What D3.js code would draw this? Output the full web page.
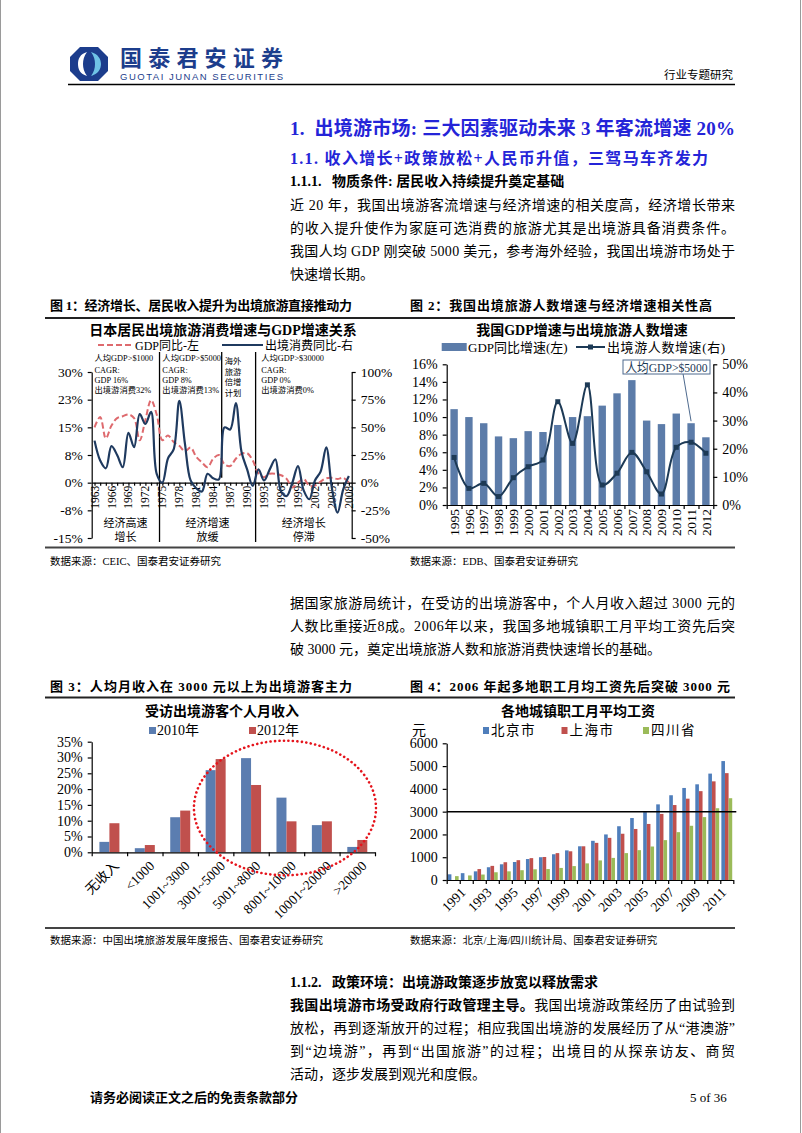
<!DOCTYPE html>
<html><head><meta charset="utf-8">
<script src="https://cdn.jsdelivr.net/npm/d3@7"></script>
<style>
body{margin:0;background:#fff}
svg{display:block}
text{white-space:pre}
</style>
</head><body>
<script>
// ---------------- DATA ----------------
// Chart 1: Japan
const jpYears = [1963,1964,1965,1966,1967,1968,1969,1970,1971,1972,1973,1974,1975,1976,1977,1978,1979,1980,1981,1982,1983,1984,1985,1986,1987,1988,1989,1990,1991,1992,1993,1994,1995,1996,1997,1998,1999,2000,2001,2002,2003,2004,2005,2006,2007,2008];
const jpGdp = [15,17.8,12,15.5,17.5,18,18.5,17.5,11.5,17,22.4,18.5,11.5,12.8,11,10,8.5,9.5,7,5.5,4.2,6.5,7.5,5,4.5,6.5,7.8,8,6,2.5,1.5,2.4,2.4,2,1,-1.3,0,1,-0.8,-0.8,0.3,1.2,1.3,1,1.3,0];
const jpSpend = [38,20,13,33,25,14,45,32,62,53,64,8,0,22,30,74,35,2,-5,-8,8,4,3,50,48,72,28,12,-3,12,2,12,21,-8,-12,0,15,-7,-15,2,10,32,-5,-27,-6,6];
const c1LeftTicks = [-15,-7.5,0,7.5,15,22.5,30];
const c1LeftLabels = ['-15%','-8%','0%','8%','15%','23%','30%'];
const c1RightTicks = [-50,-25,0,25,50,75,100];
const c1XLabels = [1963,1966,1969,1972,1975,1978,1981,1984,1987,1990,1993,1996,1999,2002,2005,2008];
const c1Dividers = [1974.5,1985.5,1991.5];
const c1Notes = [
  ['人均GDP>$1000','CAGR:','GDP 16%','出境游消费32%'],
  ['人均GDP>$5000','CAGR:','GDP 8%','出境游消费13%'],
  ['海外','旅游','倍增','计划'],
  ['人均GDP>$30000','CAGR:','GDP 0%','出境游消费0%']
];
const c1Periods = [['经济高速','增长'],['经济增速','放缓'],['经济增长','停滞']];

// Chart 2: China
const cnYears = ['1995','1996','1997','1998','1999','2000','2001','2002','2003','2004','2005','2006','2007','2008','2009','2010','2011','2012'];
const cnGdp = [10.9,10.0,9.3,7.8,7.6,8.4,8.3,9.1,10.0,10.1,11.3,12.7,14.2,9.6,9.2,10.4,9.3,7.7];
const cnTravel = [16.9,5.9,7.7,3.0,9.7,13.6,16.0,36.7,21.9,42.7,7.1,11.3,18.7,11.8,3.9,20.5,22.3,18.4];
const c2LeftTicks = [0,2,4,6,8,10,12,14,16];
const c2RightTicks = [0,10,20,30,40,50];

// Chart 3: income
const incomeCats = ['无收入','<1000','1001~3000','3001~5000','5001~8000','8001~10000','10001~20000','>20000'];
const income2010 = [3.3,1.3,11.1,26.0,29.8,17.3,8.6,1.7];
const income2012 = [9.2,2.3,13.2,29.5,21.3,9.8,9.8,3.9];
const c3Ticks = [0,5,10,15,20,25,30,35];

// Chart 4: wages
const wageYears = ['1991','1992','1993','1994','1995','1996','1997','1998','1999','2000','2001','2002','2003','2004','2005','2006','2007','2008','2009','2010','2011','2012'];
const wageBeijing = [250,300,380,560,690,790,920,1000,1130,1300,1480,1720,2000,2360,2720,2980,3320,3720,4040,4200,4670,5220];
const wageShanghai = [null,null,480,620,780,870,960,1010,1180,1260,1480,1630,1850,2030,2240,2460,2900,3290,3570,3900,4330,4690];
const wageSichuan = [170,200,240,340,380,430,470,480,530,610,730,860,970,1180,1310,1470,1750,2100,2380,2760,3150,3590];
const c4Ticks = [0,1000,2000,3000,4000,5000,6000];
const c4XLabels = ['1991','1993','1995','1997','1999','2001','2003','2005','2007','2009','2011'];
const c4RefLine = [3000];

// ---------------- SETUP ----------------
const W = 802, H = 1133;
const FONT = '"Liberation Serif","Noto Sans CJK SC",serif';
const BLUE_H = '#2424D8';
const svg = d3.select('body').append('svg').attr('width', W).attr('height', H)
  .style('font-family', FONT);

function T(x, y, s, o = {}) {
  const t = svg.append('text').attr('x', x).attr('y', y)
    .attr('font-size', o.size || 14)
    .attr('font-weight', o.weight || 'normal')
    .attr('fill', o.fill || '#000')
    .attr('text-anchor', o.anchor || 'start')
    .text(s);
  if (o.width) t.attr('textLength', o.width).attr('lengthAdjust', 'spacing');
  if (o.ls) t.attr('letter-spacing', o.ls);
  return t;
}
function L(x1, y1, x2, y2, o = {}) {
  return svg.append('line').attr('x1', x1).attr('y1', y1).attr('x2', x2).attr('y2', y2)
    .attr('stroke', o.stroke || '#000').attr('stroke-width', o.w || 1)
    .attr('stroke-dasharray', o.dash || null);
}

// page border
L(0.5, 0, 0.5, H, {stroke: '#9a9a9a'});
L(800.5, 0, 800.5, H, {stroke: '#9a9a9a'});

// ---------------- HEADER ----------------
const logo = svg.append('g').attr('transform', 'translate(70,47)');
logo.append('path').attr('d', 'M10,0 L28,0 L38,10 L38,24 L28,34 L10,34 L0,24 L0,10 Z').attr('fill', '#1C3D8C');
logo.append('path').attr('d', 'M17,5 C10,7 8,12 8,17 C8,22 10,27 17,29 C14,25 13,21 13,17 C13,13 14,9 17,5 Z').attr('fill', '#fff');
logo.append('path').attr('d', 'M21,5 C28,7 31,12 31,17 C31,22 28,27 21,29 C24,25 25,21 25,17 C25,13 24,9 21,5 Z').attr('fill', '#6FC3E6');
T(120, 66, '国泰君安证券', {size: 22, weight: 'bold', fill: '#1C3D8C', width: 163}).style('font-family', '"Noto Sans CJK SC",sans-serif');
T(120, 80, 'GUOTAI JUNAN SECURITIES', {size: 9.5, fill: '#1C3D8C', width: 163}).style('font-family', '"Liberation Sans",sans-serif');
T(733, 79, '行业专题研究', {size: 11.5, anchor: 'end'});
L(68, 84.5, 735, 84.5, {w: 1.3});

// ---------------- HEADINGS / TEXT ----------------
T(290, 135, '1.  出境游市场: 三大因素驱动未来 3 年客流增速 20%', {size: 19, weight: 'bold', fill: BLUE_H, width: 445});
T(290, 164, '1.1. 收入增长+政策放松+人民币升值，三驾马车齐发力', {size: 16, weight: 'bold', fill: BLUE_H, width: 418});
T(290, 186, '1.1.1.   物质条件: 居民收入持续提升奠定基础', {size: 14, weight: 'bold'});
const p1 = ['近 20 年，我国出境游客流增速与经济增速的相关度高，经济增长带来',
            '的收入提升使作为家庭可选消费的旅游尤其是出境游具备消费条件。',
            '我国人均 GDP 刚突破 5000 美元，参考海外经验，我国出境游市场处于',
            '快速增长期。'];
p1.forEach((s, i) => T(290, 210 + i * 23, s, {size: 14, width: i < 3 ? 445 : null}));

T(50, 310, '图 1：经济增长、居民收入提升为出境旅游直接推动力', {size: 13, weight: 'bold', width: 302});
T(410, 310, '图 2：我国出境旅游人数增速与经济增速相关性高', {size: 13, weight: 'bold', width: 302});
L(45, 318, 735, 318, {w: 1.8, stroke: '#222'});
L(45, 547.5, 735, 547.5, {w: 1.8, stroke: '#444'});
T(50, 565, '数据来源：CEIC、国泰君安证券研究', {size: 10.5});
T(410, 565, '数据来源：EDB、国泰君安证券研究', {size: 10.5});

const p2 = ['据国家旅游局统计，在受访的出境游客中，个人月收入超过 3000 元的',
            '人数比重接近8成。2006年以来，我国多地城镇职工月平均工资先后突',
            '破 3000 元，奠定出境旅游人数和旅游消费快速增长的基础。'];
p2.forEach((s, i) => T(290, 608 + i * 23, s, {size: 14, width: i < 2 ? 445 : null}));

T(50, 691, '图 3：人均月收入在 3000 元以上为出境游客主力', {size: 13, weight: 'bold', width: 302});
T(410, 691, '图 4：2006 年起多地职工月均工资先后突破 3000 元', {size: 13, weight: 'bold', width: 320});
L(45, 697.5, 735, 697.5, {w: 1.8, stroke: '#222'});
L(45, 928, 735, 928, {w: 1.8, stroke: '#444'});
T(50, 944, '数据来源：中国出境旅游发展年度报告、国泰君安证券研究', {size: 10.5});
T(410, 944, '数据来源：北京/上海/四川统计局、国泰君安证券研究', {size: 10.5});

T(290, 987, '1.1.2.   政策环境：出境游政策逐步放宽以释放需求', {size: 14, weight: 'bold'});
const p3first = svg.append('text').attr('x', 290).attr('y', 1010).attr('font-size', 14)
  .attr('textLength', 445).attr('lengthAdjust', 'spacing');
p3first.append('tspan').attr('font-weight', 'bold').text('我国出境游市场受政府行政管理主导。');
p3first.append('tspan').text('我国出境游政策经历了由试验到');
const p3 = ['放松，再到逐渐放开的过程；相应我国出境游的发展经历了从“港澳游”',
            '到“边境游”，再到“出国旅游”的过程；出境目的从探亲访友、商贸',
            '活动，逐步发展到观光和度假。'];
p3.forEach((s, i) => T(290, 1033 + i * 23, s, {size: 14, width: i < 2 ? 445 : null}));

T(90, 1102, '请务必阅读正文之后的免责条款部分', {size: 13, weight: 'bold'});
T(690, 1102, '5 of 36', {size: 13});

function styleAxis(g, size) {
  g.attr('font-family', FONT).attr('font-size', size);
  g.selectAll('path,line').attr('stroke', '#000').attr('stroke-width', 1.2);
  g.selectAll('text').attr('fill', '#000');
}

// ---------------- CHART 1 ----------------
{
  const x = d3.scaleLinear().domain([jpYears[0] - 0.5, jpYears[jpYears.length - 1] + 0.5]).range([91.7, 351.7]);
  const yL = d3.scaleLinear().domain([-15, 30]).range([538, 372]);
  const yR = d3.scaleLinear().domain([-50, 100]).range([538, 372]);
  const g = svg.append('g');
  g.append('text').attr('x', 223).attr('y', 335).attr('text-anchor', 'middle')
    .attr('font-size', 14).attr('font-weight', 'bold').text('日本居民出境旅游消费增速与GDP增速关系');
  // legend
  g.append('line').attr('x1', 98).attr('x2', 132).attr('y1', 345).attr('y2', 345)
    .attr('stroke', '#DE6A6E').attr('stroke-width', 2).attr('stroke-dasharray', '6,3');
  g.append('text').attr('x', 135).attr('y', 349.5).attr('font-size', 12).text('GDP同比-左');
  g.append('line').attr('x1', 222).attr('x2', 263).attr('y1', 345).attr('y2', 345)
    .attr('stroke', '#1F3A5F').attr('stroke-width', 2.2);
  g.append('text').attr('x', 265).attr('y', 349.5).attr('font-size', 12).text('出境消费同比-右');

  const aL = g.append('g').attr('transform', 'translate(91.7,0)')
    .call(d3.axisLeft(yL).tickValues(c1LeftTicks).tickFormat((d, i) => c1LeftLabels[i]).tickSize(4).tickSizeOuter(0).tickPadding(5));
  styleAxis(aL, 13.5);
  const aR = g.append('g').attr('transform', 'translate(351.7,0)')
    .call(d3.axisRight(yR).tickValues(c1RightTicks).tickFormat(d => d + '%').tickSize(4).tickSizeOuter(0).tickPadding(5));
  styleAxis(aR, 13.5);
  const aX = g.append('g').attr('transform', `translate(0,${yL(0)})`)
    .call(d3.axisBottom(x).tickValues(jpYears).tickFormat('').tickSize(3).tickSizeOuter(0));
  styleAxis(aX, 11);
  g.selectAll('.xl').data(c1XLabels).join('text')
    .attr('transform', d => `translate(${x(d)},${yL(0) + 3}) rotate(-90)`)
    .attr('text-anchor', 'end').attr('dy', '0.35em').attr('font-size', 11.5).text(d => d);

  // dividers
  c1Dividers.forEach((yr, i) => {
    g.append('line').attr('x1', x(yr)).attr('x2', x(yr))
      .attr('y1', yL(30) - 20).attr('y2', i === 1 ? yL(0) - 5 : yL(-15) + 4)
      .attr('stroke', '#000').attr('stroke-width', 1.3);
  });
  // notes
  const noteX = [x(1963), x(1975), x((1985.5 + 1989.5) / 2), x(1992.5)];
  c1Notes.forEach((lines, i) => {
    lines.forEach((s, j) => {
      g.append('text').attr('x', noteX[i]).attr('y', (i === 2 ? 364 : 361) + j * (i === 2 ? 10.5 : 10.3) + (j > 0 && i !== 2 ? 1.5 : 0))
        .attr('text-anchor', i === 2 ? 'middle' : 'start').attr('font-size', 8.3).text(s);
    });
  });
  // period labels
  const bounds = [x.range()[0], x(c1Dividers[0]), x(c1Dividers[2]), x.range()[1]];
  c1Periods.forEach((lines, i) => {
    const cx = (bounds[i] + bounds[i + 1]) / 2;
    lines.forEach((s, j) => g.append('text').attr('x', cx).attr('y', 527 + j * 14)
      .attr('text-anchor', 'middle').attr('font-size', 11).text(s));
  });

  const gdpLine = d3.line().x((d, i) => x(jpYears[i])).y(d => yL(d)).curve(d3.curveCatmullRom.alpha(0.5));
  const spLine = d3.line().x((d, i) => x(jpYears[i])).y(d => yR(d)).curve(d3.curveCatmullRom.alpha(0.5));
  g.append('path').attr('d', gdpLine(jpGdp)).attr('fill', 'none').attr('stroke', '#DE6A6E')
    .attr('stroke-width', 2).attr('stroke-dasharray', '6,3');
  g.append('path').attr('d', spLine(jpSpend)).attr('fill', 'none').attr('stroke', '#1F3A5F')
    .attr('stroke-width', 2.2);
}

// ---------------- CHART 2 ----------------
{
  const x = d3.scaleBand().domain(cnYears).range([446.7, 713.3]).paddingInner(0.5).paddingOuter(0.25);
  const yL = d3.scaleLinear().domain([0, 16]).range([505, 364.3]);
  const yR = d3.scaleLinear().domain([0, 50]).range([505, 364.3]);
  const barC = '#5C7CA9', lineC = '#1D3A56';
  const g = svg.append('g');
  g.append('text').attr('x', 582).attr('y', 335).attr('text-anchor', 'middle')
    .attr('font-size', 14).attr('font-weight', 'bold').text('我国GDP增速与出境旅游人数增速');
  g.append('rect').attr('x', 441.7).attr('y', 343).attr('width', 25).attr('height', 8).attr('fill', barC);
  g.append('text').attr('x', 468).attr('y', 351.5).attr('font-size', 13).text('GDP同比增速(左)');
  g.append('line').attr('x1', 576).attr('x2', 605).attr('y1', 347).attr('y2', 347).attr('stroke', lineC).attr('stroke-width', 2);
  g.append('rect').attr('x', 588).attr('y', 344.5).attr('width', 5).attr('height', 5).attr('fill', lineC);
  g.append('text').attr('x', 607).attr('y', 351.5).attr('font-size', 13).attr('letter-spacing', 0.6).text('出境游人数增速(右)');

  g.selectAll('.bar').data(cnGdp).join('rect')
    .attr('x', (d, i) => x(cnYears[i])).attr('width', x.bandwidth())
    .attr('y', d => yL(d)).attr('height', d => yL(0) - yL(d)).attr('fill', barC);

  const aL = g.append('g').attr('transform', 'translate(446.7,0)')
    .call(d3.axisLeft(yL).tickValues(c2LeftTicks).tickFormat(d => d + '%').tickSize(4).tickSizeOuter(0).tickPadding(5));
  styleAxis(aL, 14);
  const aR = g.append('g').attr('transform', 'translate(713.3,0)')
    .call(d3.axisRight(yR).tickValues(c2RightTicks).tickFormat(d => d + '%').tickSize(4).tickSizeOuter(0).tickPadding(5));
  styleAxis(aR, 14);
  const xb = d3.scaleLinear().domain([0, cnYears.length]).range([446.7, 713.3]);
  const aX = g.append('g').attr('transform', 'translate(0,505)')
    .call(d3.axisBottom(xb).tickValues(d3.range(0, cnYears.length + 1)).tickFormat('').tickSize(4).tickSizeOuter(0));
  styleAxis(aX, 13);
  g.selectAll('.xl').data(cnYears).join('text')
    .attr('transform', d => `translate(${x(d) + x.bandwidth() / 2},509) rotate(-90)`)
    .attr('text-anchor', 'end').attr('dy', '0.35em').attr('font-size', 13.5).text(d => d);

  const line = d3.line().x((d, i) => x(cnYears[i]) + x.bandwidth() / 2).y(d => yR(d)).curve(d3.curveCatmullRom.alpha(0.5));
  g.append('path').attr('d', line(cnTravel)).attr('fill', 'none').attr('stroke', lineC).attr('stroke-width', 2);
  g.selectAll('.mk').data(cnTravel).join('rect')
    .attr('x', (d, i) => x(cnYears[i]) + x.bandwidth() / 2 - 2.5).attr('y', d => yR(d) - 2.5)
    .attr('width', 5).attr('height', 5).attr('fill', lineC);

  // annotation
  const ax = x('2011') + x.bandwidth() / 2;
  const ay = yL(cnGdp[cnYears.indexOf('2011')]);
  g.append('line').attr('x1', ax - 8).attr('y1', 374).attr('x2', ax).attr('y2', ay - 2)
    .attr('stroke', '#4E6A8E').attr('stroke-width', 1);
  g.append('rect').attr('x', 623).attr('y', 360).attr('width', 87).attr('height', 14)
    .attr('fill', '#fff').attr('stroke', '#4E6A8E').attr('stroke-width', 1);
  g.append('text').attr('x', 625.5).attr('y', 371.5)
    .attr('font-size', 13).attr('fill', '#1D3A56').attr('textLength', 82).attr('lengthAdjust', 'spacingAndGlyphs').text('人均GDP>$5000');
}

// ---------------- CHART 3 ----------------
{
  const x = d3.scaleBand().domain(incomeCats).range([91.7, 375]);
  const xs = d3.scaleBand().domain(['2010', '2012']).range([0, x.bandwidth()]).paddingOuter(0.77);
  const y = d3.scaleLinear().domain([0, 35]).range([852.3, 741.7]);
  const cB = '#5B7DB0', cR = '#C0504D';
  const g = svg.append('g');
  g.append('text').attr('x', 222).attr('y', 716).attr('text-anchor', 'middle')
    .attr('font-size', 14).attr('font-weight', 'bold').text('受访出境游客个人月收入');
  g.append('rect').attr('x', 149).attr('y', 727).attr('width', 7).attr('height', 7).attr('fill', cB);
  g.append('text').attr('x', 157).attr('y', 734.5).attr('font-size', 14).text('2010年');
  g.append('rect').attr('x', 249).attr('y', 727).attr('width', 7).attr('height', 7).attr('fill', cR);
  g.append('text').attr('x', 257).attr('y', 734.5).attr('font-size', 14).text('2012年');

  g.selectAll('.b10').data(income2010).join('rect')
    .attr('x', (d, i) => x(incomeCats[i]) + xs('2010')).attr('width', xs.bandwidth())
    .attr('y', d => y(d)).attr('height', d => y(0) - y(d)).attr('fill', cB);
  g.selectAll('.b12').data(income2012).join('rect')
    .attr('x', (d, i) => x(incomeCats[i]) + xs('2012')).attr('width', xs.bandwidth())
    .attr('y', d => y(d)).attr('height', d => y(0) - y(d)).attr('fill', cR);

  const aL = g.append('g').attr('transform', 'translate(91.7,0)')
    .call(d3.axisLeft(y).tickValues(c3Ticks).tickFormat(d => d + '%').tickSize(4).tickSizeOuter(0).tickPadding(5));
  styleAxis(aL, 14);
  const xb = d3.scaleLinear().domain([0, incomeCats.length]).range(x.range());
  const aX = g.append('g').attr('transform', `translate(0,${y(0)})`)
    .call(d3.axisBottom(xb).tickValues(d3.range(0, incomeCats.length + 1)).tickFormat('').tickSize(4).tickSizeOuter(0));
  styleAxis(aX, 13);
  g.selectAll('.xl').data(incomeCats).join('text')
    .attr('transform', d => `translate(${x(d) + x.bandwidth() / 2 + 7},${y(0) + 11}) rotate(-45)`)
    .attr('text-anchor', 'end').attr('dy', '0.35em').attr('font-size', 13.5).text(d => d);

  // dotted ellipse highlight
  const left = x('3001~5000') - 4, right = x.range()[1] + 1;
  const top = y(35) - 1, bottom = y(0) + 23;
  g.append('ellipse').attr('cx', (left + right) / 2).attr('cy', (top + bottom) / 2)
    .attr('rx', (right - left) / 2).attr('ry', (bottom - top) / 2)
    .attr('fill', 'none').attr('stroke', '#E5141C').attr('stroke-width', 2.6)
    .attr('stroke-linecap', 'round').attr('stroke-dasharray', '0.1,4.4');
}

// ---------------- CHART 4 ----------------
{
  const x = d3.scaleBand().domain(wageYears).range([446.7, 733.3]);
  const xs = d3.scaleBand().domain(['b', 's', 'c']).range([0, x.bandwidth()]).paddingOuter(0.3);
  const y = d3.scaleLinear().domain([0, 6000]).range([880, 743.3]);
  const cB = '#4F7EBB', cR = '#C0504D', cG = '#9BBB59';
  const g = svg.append('g');
  g.append('text').attr('x', 578).attr('y', 716).attr('text-anchor', 'middle')
    .attr('font-size', 14).attr('font-weight', 'bold').text('各地城镇职工月平均工资');
  g.append('text').attr('x', 412).attr('y', 734.5).attr('font-size', 14).text('元');
  [[cB, '北京市', 483], [cR, '上海市', 561.5], [cG, '四川省', 643]].forEach(([c, s, lx]) => {
    g.append('rect').attr('x', lx).attr('y', 727).attr('width', 6).attr('height', 7).attr('fill', c);
    g.append('text').attr('x', lx + 8).attr('y', 734.5).attr('font-size', 13.5).attr('letter-spacing', 1.5).text(s);
  });
  [[wageBeijing, 'b', cB], [wageShanghai, 's', cR], [wageSichuan, 'c', cG]].forEach(([arr, k, c]) => {
    const pts = arr.map((v, i) => ({year: wageYears[i], v})).filter(d => d.v != null);
    g.selectAll('.w' + k).data(pts).join('rect')
      .attr('x', d => x(d.year) + xs(k)).attr('width', xs.bandwidth())
      .attr('y', d => y(d.v)).attr('height', d => y(0) - y(d.v)).attr('fill', c);
  });
  const aL = g.append('g').attr('transform', 'translate(446.7,0)')
    .call(d3.axisLeft(y).tickValues(c4Ticks).tickSize(4).tickSizeOuter(0).tickPadding(5).tickFormat(d3.format('d')));
  styleAxis(aL, 14);
  const xb = d3.scaleLinear().domain([0, wageYears.length]).range(x.range());
  const aX = g.append('g').attr('transform', `translate(0,${y(0)})`)
    .call(d3.axisBottom(xb).tickValues(d3.range(0, wageYears.length + 1)).tickFormat('').tickSize(4).tickSizeOuter(0));
  styleAxis(aX, 13);
  g.selectAll('.xl').data(c4XLabels).join('text')
    .attr('transform', d => `translate(${x(d) + x.bandwidth() / 2 + 10},${y(0) + 10}) rotate(-45)`)
    .attr('text-anchor', 'end').attr('dy', '0.35em').attr('font-size', 13.5).text(d => d);
  g.selectAll('.ref').data(c4RefLine).join('line')
    .attr('x1', x.range()[0]).attr('x2', x.range()[1] + 3).attr('y1', d => y(d)).attr('y2', d => y(d))
    .attr('stroke', '#000').attr('stroke-width', 1.5);
}
</script>
</body></html>
